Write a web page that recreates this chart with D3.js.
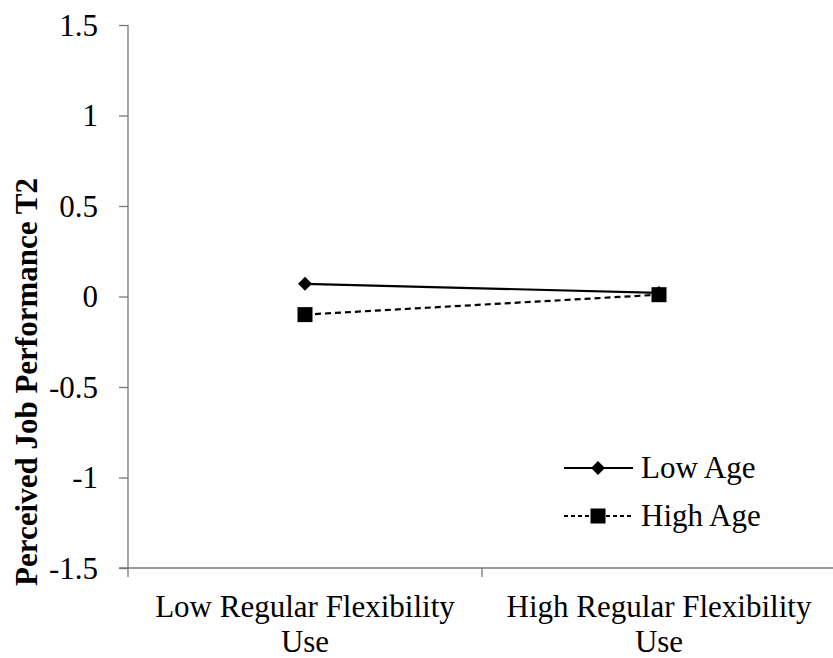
<!DOCTYPE html>
<html><head><meta charset="utf-8">
<script src="https://cdn.jsdelivr.net/npm/d3@7"></script>
<style>body{margin:0;background:#fff}svg{display:block}</style>
</head><body>
<script>
const categories = [["Low Regular Flexibility","Use"],["High Regular Flexibility","Use"]];
const seriesNames = ["Low Age","High Age"];
const lowAge = [0.07, 0.02];
const highAge = [-0.10, 0.01];
const yTicks = [-1.5,-1,-0.5,0,0.5,1,1.5];
const yTitle = "Perceived Job Performance T2";

const FONT = "'Liberation Serif', 'Times New Roman', Times, serif";
const FS = "31px";
const W=833,H=658;
const svg=d3.select("body").append("svg").attr("width",W).attr("height",H)
  .style("font-family",FONT);
const x0=128,x1=836,yTop=25,yBot=568;
const x=d3.scaleBand().domain([0,1]).range([x0,x1]);
const y=d3.scaleLinear().domain([-1.5,1.5]).range([yBot,yTop]);
const axCol="#777";

// y axis
const ya=svg.append("g").attr("transform",`translate(${x0},0)`)
  .call(d3.axisLeft(y).tickValues(yTicks).tickSize(9).tickPadding(21).tickFormat(d=>String(d)));
ya.select(".domain").remove();
ya.selectAll(".tick line").attr("stroke",axCol).attr("stroke-width",1.3);
ya.attr("font-family",null).attr("font-size",null);
ya.selectAll("text").style("font-family",FONT).style("font-size",FS).attr("fill","#000").attr("dy","0.33em");
svg.append("line").attr("x1",x0).attr("x2",x0).attr("y1",yTop).attr("y2",yBot+9).attr("stroke",axCol).attr("stroke-width",1.3);

// x axis
svg.append("line").attr("x1",x0-9).attr("x2",x1).attr("y1",yBot).attr("y2",yBot).attr("stroke",axCol).attr("stroke-width",1.3);
[x0+x.bandwidth()].forEach(t=>svg.append("line").attr("x1",t).attr("x2",t).attr("y1",yBot).attr("y2",yBot+9).attr("stroke",axCol).attr("stroke-width",1.3));
categories.forEach((c,i)=>{
  const t=svg.append("text").attr("x",x(i)+x.bandwidth()/2).attr("y",617).attr("text-anchor","middle").style("font-size",FS);
  c.forEach((s,j)=>t.append("tspan").attr("x",x(i)+x.bandwidth()/2).attr("dy",j?35:0).text(s));
});

// y title
svg.append("text").attr("transform",`translate(37,382) rotate(-90)`).attr("text-anchor","middle")
  .style("font-size",FS).attr("font-weight","bold").text(yTitle);

const cx=i=>x(i)+x.bandwidth()/2;
const line=d3.line().x((d,i)=>cx(i)).y(d=>y(d));
function drawDiamond(g,px,py){g.append("path").attr("d","M0,-7L7,0L0,7L-7,0Z").attr("transform",`translate(${px},${py})`).attr("fill","#000");}
function drawSquare(g,px,py){g.append("rect").attr("x",px-7.5).attr("y",py-7.5).attr("width",15).attr("height",15).attr("fill","#000");}

svg.append("path").datum(lowAge).attr("d",line).attr("fill","none").attr("stroke","#000").attr("stroke-width",2.2);
svg.append("path").datum(highAge).attr("d",line).attr("fill","none").attr("stroke","#000").attr("stroke-width",2.2).attr("stroke-dasharray","6,4");
const m=svg.append("g");
lowAge.forEach((v,i)=>drawDiamond(m,cx(i),y(v)));
highAge.forEach((v,i)=>drawSquare(m,cx(i),y(v)));

// legend
const lg=svg.append("g");
[[468,null,drawDiamond],[516,"4,3",drawSquare]].forEach((r,i)=>{
  const l=lg.append("line").attr("x1",564).attr("x2",633).attr("y1",r[0]).attr("y2",r[0]).attr("stroke","#000").attr("stroke-width",2);
  if(r[1]) l.attr("stroke-dasharray",r[1]);
  r[2](lg,598,r[0]);
  lg.append("text").attr("x",641).attr("y",r[0]).attr("dy","0.33em").style("font-size",FS).text(seriesNames[i]);
});
</script>
</body></html>
